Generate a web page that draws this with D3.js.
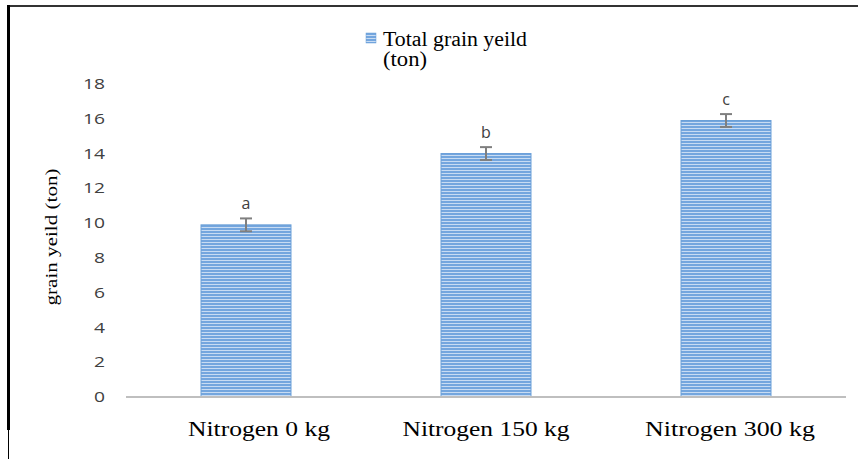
<!DOCTYPE html>
<html><head><meta charset="utf-8">
<script src="https://cdn.jsdelivr.net/npm/d3@7"></script>
<style>html,body{margin:0;padding:0;background:#fff;}svg{display:block;}</style>
</head><body>
<script>
const categories = ["Nitrogen 0 kg", "Nitrogen 150 kg", "Nitrogen 300 kg"];
const values = [9.9, 14.0, 15.9];
const errors = [0.37, 0.37, 0.37];
const letters = ["a", "b", "c"];
const yTicks = [0, 2, 4, 6, 8, 10, 12, 14, 16, 18];
const seriesName = ["Total grain yeild", "(ton)"];
const yTitle = "grain yeild (ton)";
const labelWidths = [142, 167, 170];
const labelShift = [13, 0, 4];

const W = 858, H = 459;
const svg = d3.select("body").append("svg").attr("width", W).attr("height", H);

const defs = svg.append("defs");
const pat = defs.append("pattern").attr("id", "stripes").attr("patternUnits", "userSpaceOnUse")
  .attr("width", 6).attr("height", 3);
pat.append("rect").attr("width", 6).attr("height", 3).attr("fill", "#74a6de");
pat.append("rect").attr("y", 2).attr("width", 6).attr("height", 1).attr("fill", "#c8dcf3");

// frame
svg.append("line").attr("x1", 8).attr("x2", W).attr("y1", 6).attr("y2", 6).attr("stroke", "#333").attr("stroke-width", 2);
svg.append("line").attr("x1", 8.5).attr("x2", 8.5).attr("y1", 5).attr("y2", 430).attr("stroke", "#000").attr("stroke-width", 3);
svg.append("line").attr("x1", 8.5).attr("x2", 8.5).attr("y1", 430).attr("y2", H).attr("stroke", "#000").attr("stroke-width", 1);

const x = d3.scaleBand().domain(categories).range([126, 846]).paddingInner(0.625).paddingOuter(0.3125);
const y = d3.scaleLinear().domain([0, 18]).range([397, 84]);

// y axis ticks
const yAxis = d3.axisLeft(y).tickValues(yTicks).tickSize(0).tickPadding(21).tickFormat(d3.format("d"));
const gy = svg.append("g").attr("transform", "translate(126,0)").call(yAxis);
gy.select(".domain").remove();
gy.selectAll("text").attr("font-family", "'Open Sans', sans-serif").attr("font-size", 14.5)
  .attr("fill", "#404040")
  .attr("textLength", d => String(d).length * 11).attr("lengthAdjust", "spacingAndGlyphs");

// bars
svg.selectAll("rect.bar").data(values).join("rect").attr("class", "bar")
  .attr("x", (d, i) => x(categories[i]))
  .attr("width", x.bandwidth())
  .attr("y", d => y(d))
  .attr("height", d => y(0) - y(d))
  .attr("fill", "url(#stripes)")
  .attr("stroke", "#6a9fd8").attr("stroke-width", 1);

// x axis line
svg.append("line").attr("x1", 126).attr("x2", 846).attr("y1", y(0)).attr("y2", y(0))
  .attr("stroke", "#bfbfbf").attr("stroke-width", 2);

// error bars
const eg = svg.append("g").attr("stroke", "#7f7f7f").attr("stroke-width", 2);
values.forEach((v, i) => {
  const cx = x(categories[i]) + x.bandwidth() / 2;
  eg.append("line").attr("x1", cx).attr("x2", cx).attr("y1", y(v + errors[i])).attr("y2", y(v - errors[i]));
  eg.append("line").attr("x1", cx - 6).attr("x2", cx + 6).attr("y1", y(v + errors[i])).attr("y2", y(v + errors[i]));
  eg.append("line").attr("x1", cx - 6).attr("x2", cx + 6).attr("y1", y(v - errors[i])).attr("y2", y(v - errors[i]));
});

// letters
svg.selectAll("text.sig").data(letters).join("text").attr("class", "sig")
  .attr("x", (d, i) => x(categories[i]) + x.bandwidth() / 2)
  .attr("y", (d, i) => y(values[i] + errors[i]) - 9)
  .attr("text-anchor", "middle")
  .attr("font-family", "'Open Sans', sans-serif").attr("font-size", 16).attr("fill", "#404040")
  .text(d => d);

// x labels
svg.selectAll("text.cat").data(categories).join("text").attr("class", "cat")
  .attr("x", (d, i) => x(d) + x.bandwidth() / 2 + labelShift[i])
  .attr("y", 436)
  .attr("text-anchor", "middle")
  .attr("font-family", "'Liberation Serif', 'Times New Roman', serif").attr("font-size", 21)
  .attr("fill", "#000")
  .attr("textLength", (d, i) => labelWidths[i]).attr("lengthAdjust", "spacingAndGlyphs")
  .text(d => d);

// y title
svg.append("text")
  .attr("transform", "translate(57,237) rotate(-90)")
  .attr("text-anchor", "middle")
  .attr("font-family", "'Liberation Serif', 'Times New Roman', serif").attr("font-size", 16)
  .attr("fill", "#000")
  .attr("textLength", 137).attr("lengthAdjust", "spacingAndGlyphs")
  .text(yTitle);

// legend
svg.append("rect").attr("x", 366).attr("y", 33).attr("width", 10).attr("height", 10)
  .attr("fill", "url(#stripes)").attr("stroke", "#6a9fd8").attr("stroke-width", 0.5);
const lw = [144, 44];
svg.selectAll("text.leg").data(seriesName).join("text").attr("class", "leg")
  .attr("x", 383).attr("y", (d, i) => 46 + i * 20)
  .attr("font-family", "'Liberation Serif', 'Times New Roman', serif").attr("font-size", 20)
  .attr("fill", "#000")
  .attr("textLength", (d, i) => lw[i]).attr("lengthAdjust", "spacingAndGlyphs")
  .text(d => d);
</script>
</body></html>
